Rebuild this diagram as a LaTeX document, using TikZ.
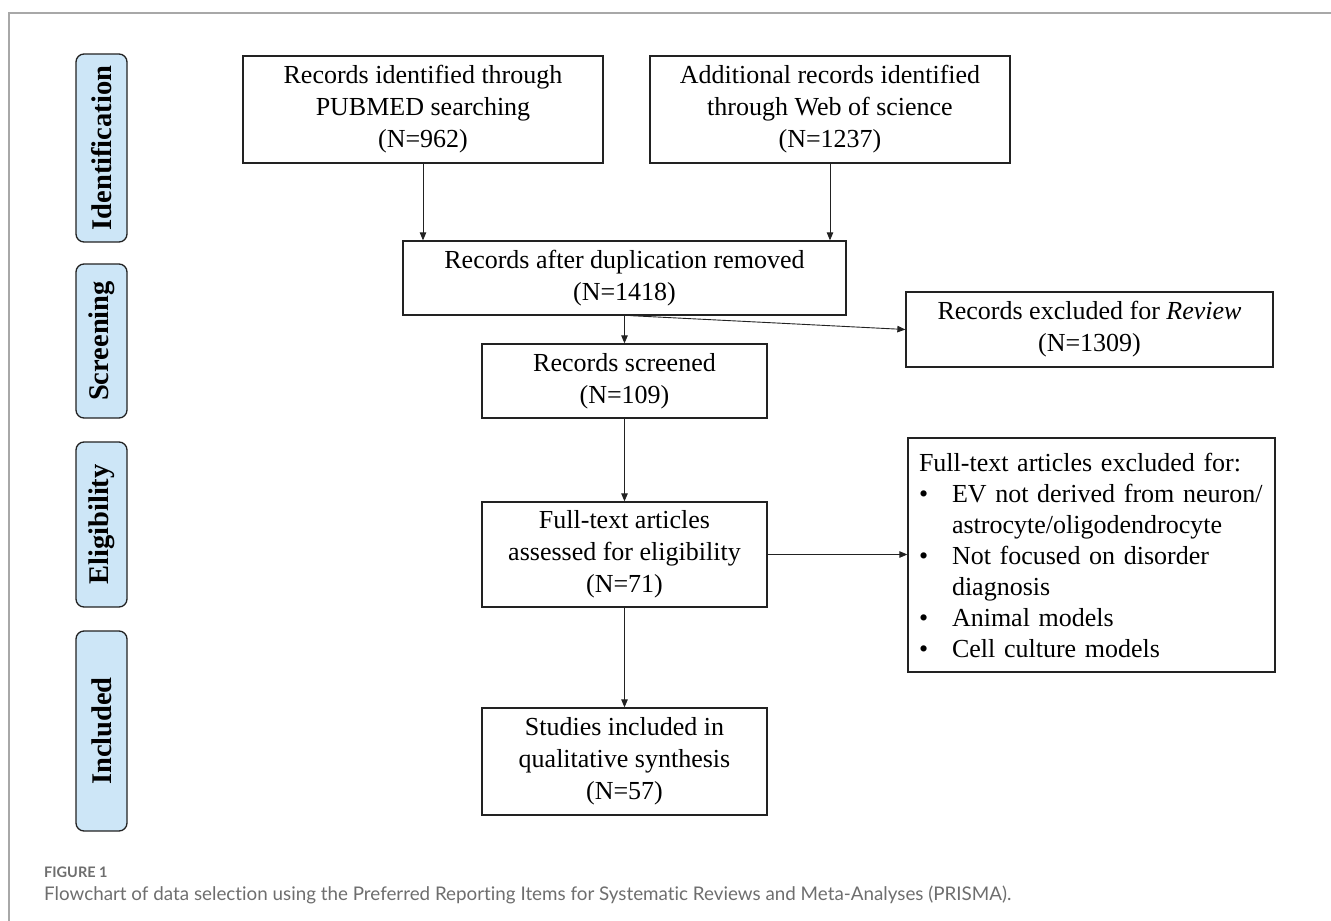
\documentclass[tikz,border=0pt]{standalone}
\usepackage{fontspec}
\setmainfont{Liberation Serif}
\newfontfamily\capfont[Ligatures={NoCommon,NoDiscretionary,NoRare}]{Lato}
\usetikzlibrary{arrows.meta}
\definecolor{lblue}{HTML}{CDE6F7}
\definecolor{ink}{HTML}{222222}
\definecolor{frameg}{HTML}{A8A8A8}
\definecolor{capg}{HTML}{6E6E6E}
\begin{document}
\begin{tikzpicture}[x=1pt,y=-1pt,
  box/.style={draw=ink, line width=1.3pt, align=center, inner sep=0pt,
    font=\fontsize{26}{32}\selectfont},
  phase/.style={draw=ink, line width=1.3pt, fill=lblue, rounded corners=8pt,
    rotate=90, minimum height=51pt, inner sep=0pt,
    font=\bfseries\fontsize{28.5}{30}\selectfont},
  conn/.style={draw=ink, line width=0.9pt, -{Triangle[length=8pt,width=6.5pt]}}]
\useasboundingbox (0,0) rectangle (1331,921);
% frame
\draw[frameg, line width=1.5pt] (9,921) -- (9,13) -- (1331,13);
% phase labels
\node[phase, minimum width=188pt] (pid) at (101.5,148) {Identification};
\node[phase, minimum width=154pt] (psc) at (101.5,341) {Screening};
\node[phase, minimum width=165pt] (pel) at (101.5,524.5) {Eligibility};
\node[phase, minimum width=200pt] (pin) at (101.5,731) {Included};
% boxes
\node[box, minimum width=360pt, minimum height=107pt] (pub) at (423,109.5)
  {Records identified through\\PUBMED searching\\(N=962)};
\node[box, minimum width=360pt, minimum height=107pt] (wos) at (830,109.5)
  {Additional records identified\\through Web of science\\(N=1237)};
\node[box, minimum width=443pt, minimum height=74pt] (dup) at (624.5,278)
  {Records after duplication removed\\(N=1418)};
\node[box, minimum width=367pt, minimum height=75pt] (exr) at (1089.5,329.5)
  {Records excluded for \textit{Review}\\(N=1309)};
\node[box, minimum width=285pt, minimum height=74pt] (scr) at (624.5,381)
  {Records screened\\(N=109)};
\node[box, minimum width=285pt, minimum height=105pt] (ful) at (624.5,554.5)
  {Full-text articles\\assessed for eligibility\\(N=71)};
\node[box, align=left, text width=345pt, inner xsep=11pt, minimum height=234pt,
  font=\fontsize{26}{31}\selectfont] (exf) at (1091.5,555)
  {Full-text articles excluded for:\\
   \makebox[33pt][l]{\textbullet}EV not derived from neuron/\\
   \hspace*{33pt}astrocyte/oligodendrocyte\\
   \makebox[33pt][l]{\textbullet}Not focused on disorder\\
   \hspace*{33pt}diagnosis\\
   \makebox[33pt][l]{\textbullet}Animal models\\
   \makebox[33pt][l]{\textbullet}Cell culture models};
\node[box, minimum width=285pt, minimum height=107pt] (stu) at (624.5,761.5)
  {Studies included in\\qualitative synthesis\\(N=57)};
% connectors
\draw[conn] (pub.south) -- (pub.south |- dup.north);
\draw[conn] (wos.south) -- (wos.south |- dup.north);
\draw[conn] (dup.south) -- (scr.north);
\draw[conn] ([xshift=6pt]dup.south) -- (exr.west);
\draw[conn] (scr.south) -- (ful.north);
\draw[conn] (ful.east) -- (ful.east -| exf.west);
\draw[conn] (ful.south) -- (stu.north);
% caption
\node[anchor=base west, inner sep=0pt, text=capg, font=\capfont\bfseries\fontsize{14.5}{17}\selectfont] (figl) at (44,877) {FIGURE 1};
\node[anchor=base west, inner sep=0pt, text=capg, font=\capfont\fontsize{18.8}{23}\selectfont] (capt) at (44,900)
  {Flowchart of data selection using the Preferred Reporting Items for Systematic Reviews and Meta-Analyses (PRISMA).};
\end{tikzpicture}
\end{document}
